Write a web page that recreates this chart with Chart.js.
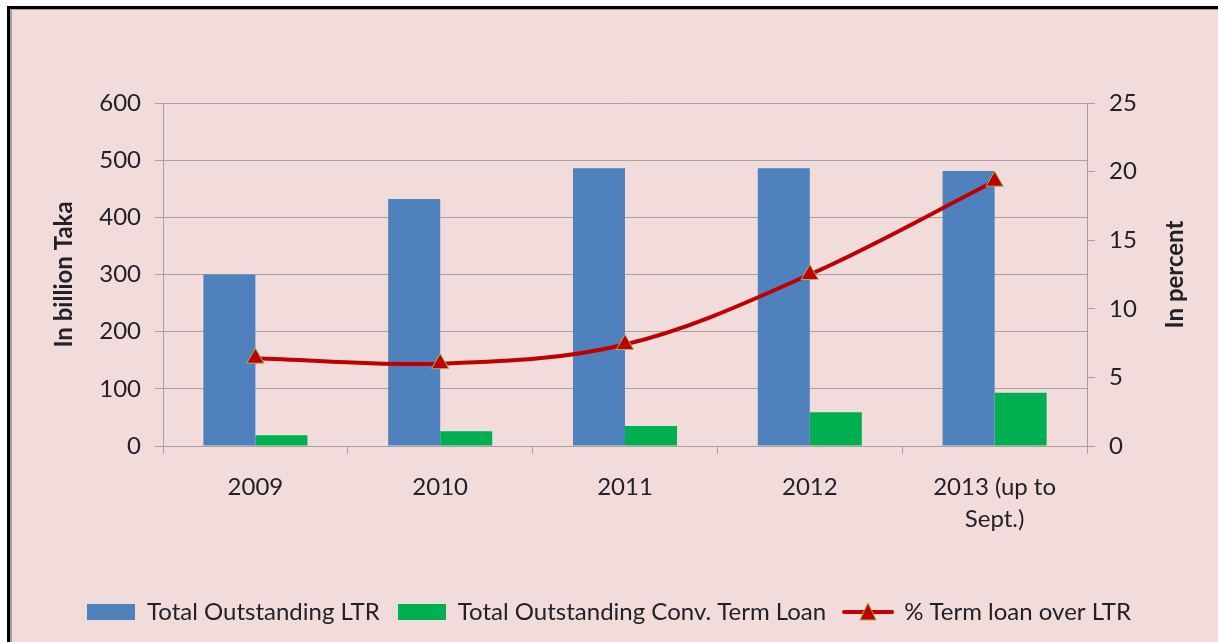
<!DOCTYPE html>
<html lang="en">
<head>
    <meta charset="UTF-8">
    <title>Term Loan vs LTR</title>
    <script src="https://cdn.jsdelivr.net/npm/chart.js"></script>
    <style>
        html, body { margin: 0; padding: 0; background: #fff; }
        .frame {
            position: absolute; left: 7px; top: 6px; width: 1230px; height: 660px;
            border-left: 3px solid #000; border-top: 3px solid #000;
            background: #F2DCDB;
        }
        .frame .inner {
            position: absolute; left: 0; top: 0; right: 0; bottom: 0;
            border-left: 2px solid #a8a0a0; border-top: 1px solid #a8a0a0;
        }
        #wrap { position: absolute; left: 0; top: 0; width: 1218px; height: 642px; }
    </style>
</head>
<body>
    <div class="frame"><div class="inner"></div></div>
    <div id="wrap"><canvas id="loanChart" width="1218" height="642"></canvas></div>

    <script>
        // values
        const years = ['2009', '2010', '2011', '2012', ['2013 (up to', 'Sept.)']];
        const ltrTotal = [300, 432, 486, 486, 481];
        const convTermLoan = [19, 26, 35, 59, 93];
        const pctTermOverLtr = [6.4, 6.0, 7.4, 12.5, 19.3];

        const FONT = 'Lato';
        const gridGray = '#a6a0a0';
        const txt = '#222';

        function boxIcon(color) {
            const c = document.createElement('canvas');
            c.width = 48; c.height = 16;
            const g = c.getContext('2d');
            g.fillStyle = color;
            g.fillRect(0, 0, 48, 16);
            return c;
        }

        function lineIcon() {
            const c = document.createElement('canvas');
            c.width = 52; c.height = 24;
            const g = c.getContext('2d');
            g.strokeStyle = '#C00000';
            g.lineWidth = 4;
            g.lineCap = 'round';
            g.beginPath(); g.moveTo(2, 12); g.lineTo(50, 12); g.stroke();
            g.fillStyle = '#C00000';
            g.strokeStyle = '#9BBB59';
            g.lineWidth = 1;
            g.beginPath(); g.moveTo(26, 3); g.lineTo(34, 20); g.lineTo(18, 20); g.closePath();
            g.fill(); g.stroke();
            return c;
        }

        const legendIcons = [boxIcon('#4F81BD'), boxIcon('#00B050'), lineIcon()];

        const rightTitle = {
            id: 'rightTitle',
            afterDraw(chart) {
                const ctx = chart.ctx;
                const area = chart.chartArea;
                ctx.save();
                ctx.translate(1175, (area.top + area.bottom) / 2);
                ctx.rotate(-Math.PI / 2);
                ctx.font = 'bold 24px ' + FONT;
                ctx.fillStyle = txt;
                ctx.textAlign = 'center';
                ctx.textBaseline = 'middle';
                ctx.fillText('In percent', 0, 0);
                ctx.restore();
            }
        };

        new Chart(document.getElementById('loanChart').getContext('2d'), {
            type: 'bar',
            data: {
                labels: years,
                datasets: [{
                    label: 'Total Outstanding LTR',
                    data: ltrTotal,
                    backgroundColor: '#4F81BD',
                    yAxisID: 'y',
                    categoryPercentage: 0.563,
                    barPercentage: 1.0
                }, {
                    label: 'Total Outstanding Conv. Term Loan',
                    data: convTermLoan,
                    backgroundColor: '#00B050',
                    yAxisID: 'y',
                    categoryPercentage: 0.563,
                    barPercentage: 1.0
                }, {
                    type: 'line',
                    label: '% Term loan over LTR',
                    data: pctTermOverLtr,
                    yAxisID: 'y1',
                    order: -1,
                    borderColor: '#C00000',
                    borderWidth: 4,
                    tension: 0.35,
                    pointStyle: 'triangle',
                    pointRadius: 10,
                    pointBackgroundColor: '#C00000',
                    pointBorderColor: '#9BBB59',
                    pointBorderWidth: 1
                }]
            },
            options: {
                responsive: false,
                animation: false,
                layout: { padding: { top: 103, left: 0, right: 0, bottom: 8 } },
                plugins: {
                    tooltip: { enabled: false },
                    legend: {
                        position: 'bottom',
                        labels: {
                            usePointStyle: true,
                            pointStyleWidth: 48,
                            padding: 18,
                            color: txt,
                            font: { family: FONT, size: 24 },
                            sort: (a, b) => a.datasetIndex - b.datasetIndex,
                            generateLabels(chart) {
                                const items = Chart.defaults.plugins.legend.labels.generateLabels(chart);
                                items.forEach(it => { it.pointStyle = legendIcons[it.datasetIndex]; });
                                return items;
                            }
                        }
                    }
                },
                scales: {
                    x: {
                        afterFit: s => { s.height = 136; },
                        grid: { drawOnChartArea: false, color: gridGray, tickLength: 8 },
                        border: { color: gridGray },
                        ticks: { color: txt, font: { family: FONT, size: 24, lineHeight: 1.3 }, padding: 18, maxRotation: 0 }
                    },
                    y: {
                        position: 'left',
                        min: 0, max: 600,
                        afterFit: s => { s.width = 163; },
                        grid: { color: gridGray, tickLength: 8 },
                        border: { color: gridGray },
                        ticks: { stepSize: 100, color: txt, font: { family: FONT, size: 24 }, padding: 14 },
                        title: {
                            display: true, text: 'In billion Taka', color: txt,
                            font: { family: FONT, size: 24, weight: 'bold' },
                            padding: { top: 50, bottom: 0 }
                        }
                    },
                    y1: {
                        position: 'right',
                        min: 0, max: 25,
                        afterFit: s => { s.width = 131; },
                        grid: { drawOnChartArea: false, color: gridGray, tickLength: 8 },
                        border: { color: gridGray },
                        ticks: { stepSize: 5, color: txt, font: { family: FONT, size: 24 }, padding: 14 }
                    }
                }
            },
            plugins: [rightTitle]
        });
    </script>
</body>
</html>
